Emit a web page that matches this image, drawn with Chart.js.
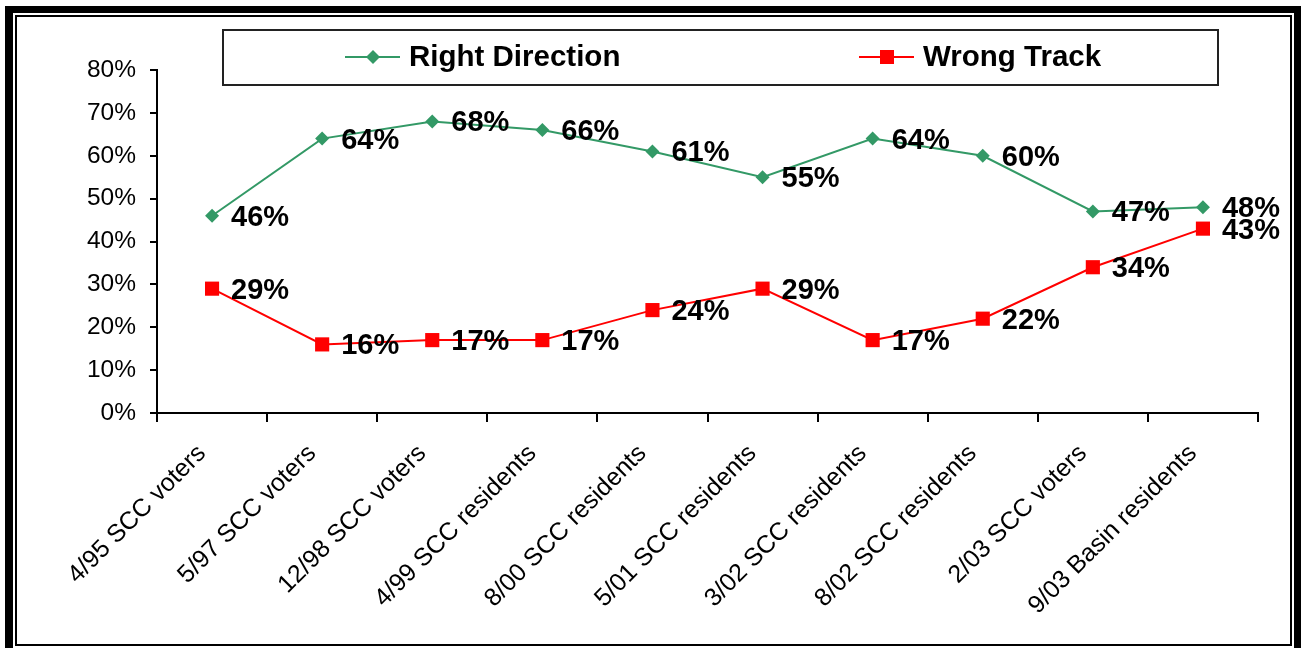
<!DOCTYPE html>
<html>
<head>
<meta charset="utf-8">
<script src="https://cdn.jsdelivr.net/npm/chart.js@4"></script>
<style>
  html, body { margin: 0; padding: 0; background: #fff; }
  canvas { display: block; }
</style>
</head>
<body>
<canvas id="myChart" width="1301" height="648"></canvas>
<script>
const categories = ['4/95 SCC voters', '5/97 SCC voters', '12/98 SCC voters', '4/99 SCC residents',
    '8/00 SCC residents', '5/01 SCC residents', '3/02 SCC residents', '8/02 SCC residents',
    '2/03 SCC voters', '9/03 Basin residents'];
const rightDirection = [46, 64, 68, 66, 61, 55, 64, 60, 47, 48];
const wrongTrack = [29, 16, 17, 17, 24, 29, 17, 22, 34, 43];
const seriesNames = ['Right Direction', 'Wrong Track'];

const FONT = 'Arial, "Liberation Sans", sans-serif';

// frame around the whole picture
const framePlugin = {
    id: 'frame',
    beforeDraw(chart) {
        const c = chart.ctx;
        c.save();
        c.fillStyle = '#fff';
        c.fillRect(0, 0, chart.width, chart.height);
        c.fillStyle = '#000';
        c.fillRect(5, 6, 1296, 7);
        c.fillRect(5, 6, 8, 642);
        c.fillRect(1294, 6, 7, 642);
        c.strokeStyle = '#000';
        c.lineWidth = 2;
        c.strokeRect(16, 16, 1275, 629);
        c.restore();
    }
};

// boxed legend with line + marker
const legendBox = {
    id: 'legendBox',
    afterDraw(chart) {
        const c = chart.ctx;
        c.save();
        c.strokeStyle = '#222';
        c.lineWidth = 2;
        c.strokeRect(223, 30, 995, 55);
        const starts = [345, 859];
        chart.data.datasets.forEach((ds, i) => {
            const x0 = starts[i], y = 57;
            c.strokeStyle = ds.borderColor;
            c.lineWidth = 2;
            c.beginPath();
            c.moveTo(x0, y);
            c.lineTo(x0 + 55, y);
            c.stroke();
            c.fillStyle = ds.backgroundColor;
            c.beginPath();
            if (ds.pointStyle === 'rect') {
                c.rect(x0 + 21, y - 7, 14, 14);
            } else {
                c.moveTo(x0 + 28, y - 7);
                c.lineTo(x0 + 35, y);
                c.lineTo(x0 + 28, y + 7);
                c.lineTo(x0 + 21, y);
                c.closePath();
            }
            c.fill();
            c.fillStyle = '#000';
            c.font = 'bold 29.5px ' + FONT;
            c.textBaseline = 'middle';
            c.textAlign = 'left';
            c.fillText(ds.label, x0 + 64, y + 1);
        });
        c.restore();
    }
};

// value labels to the right of each point
const valueLabels = {
    id: 'valueLabels',
    afterDatasetsDraw(chart) {
        const c = chart.ctx;
        c.save();
        c.fillStyle = '#000';
        c.font = 'bold 29px ' + FONT;
        c.textBaseline = 'middle';
        c.textAlign = 'left';
        chart.data.datasets.forEach((ds, i) => {
            chart.getDatasetMeta(i).data.forEach((pt, j) => {
                c.fillText(ds.data[j] + '%', pt.x + 19, pt.y + 2);
            });
        });
        c.restore();
    }
};

const ctx = document.getElementById('myChart');
const PLOT = new Chart(ctx, {
    type: 'line',
    data: {
        labels: categories,
        datasets: [{
            label: seriesNames[0],
            data: rightDirection,
            borderColor: '#339966',
            backgroundColor: '#339966',
            borderWidth: 2,
            pointStyle: 'rectRot',
            pointRadius: 7,
            pointBorderWidth: 0,
            tension: 0
        }, {
            label: seriesNames[1],
            data: wrongTrack,
            borderColor: '#ff0000',
            backgroundColor: '#ff0000',
            borderWidth: 2,
            pointStyle: 'rect',
            pointRadius: 10,
            pointBorderWidth: 0,
            tension: 0
        }]
    },
    options: {
        responsive: false,
        animation: false,
        devicePixelRatio: 1,
        layout: { padding: { top: 70, left: 0, right: 43, bottom: 0 } },
        plugins: {
            legend: { display: false },
            tooltip: { enabled: false }
        },
        scales: {
            x: {
                offset: true,
                grid: { offset: true, drawOnChartArea: false, drawTicks: true, tickLength: 9, color: '#000', lineWidth: 2 },
                border: { display: true, color: '#000', width: 2 },
                ticks: {
                    color: '#000', font: { family: FONT, size: 25 },
                    maxRotation: 45, minRotation: 45, autoSkip: false,
                    padding: 17, labelOffset: -10
                },
                afterFit(scale) { scale.height = 235; }
            },
            y: {
                min: 0, max: 80,
                grid: { drawOnChartArea: false, drawTicks: true, tickLength: 7, color: '#000', lineWidth: 2 },
                border: { display: true, color: '#000', width: 2 },
                ticks: {
                    stepSize: 10, color: '#000', padding: 14,
                    font: { family: FONT, size: 24.5 },
                    callback: v => v + '%'
                },
                afterFit(scale) { scale.width = 157; }
            }
        }
    },
    plugins: [framePlugin, legendBox, valueLabels]
});
</script>
</body>
</html>
